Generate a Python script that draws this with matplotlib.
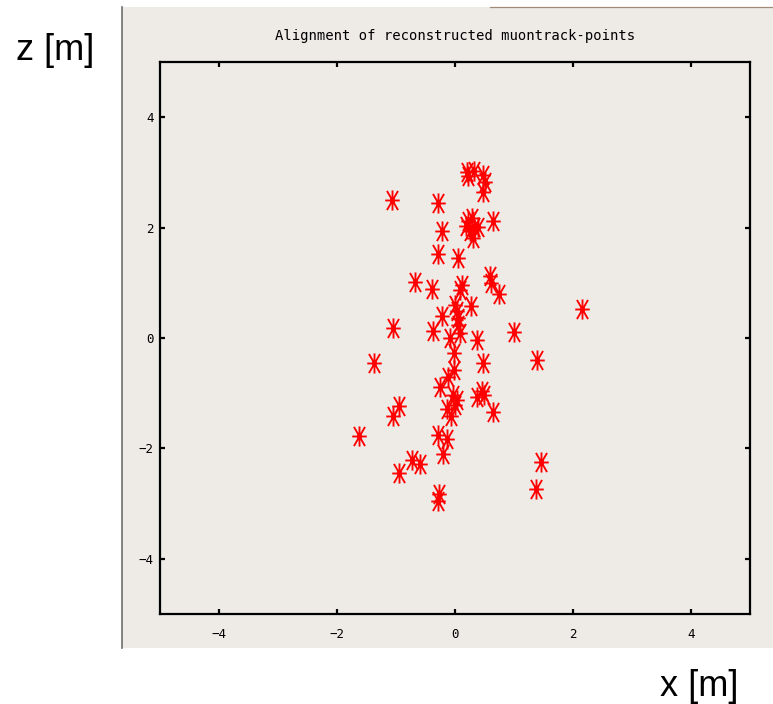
import matplotlib
matplotlib.use("Agg")
import matplotlib.pyplot as plt
from matplotlib.patches import Rectangle
from matplotlib.lines import Line2D
from matplotlib.path import Path

# Reconstructed muon track points (x, z) in metres
x_m = [-1.068, -0.278, -0.215, -0.278, 0.061, -0.673, -0.390, 0.598, 0.615, 0.751,
       0.119, 0.090, 0.271, 0.005, 0.034, 0.061, 0.061, -0.220, -1.041, -0.363,
       -0.080, 0.090, 0.373, 1.005, -0.012, 2.153, -1.373, 0.485, 1.390, -0.012,
       -0.108, -0.249, -0.024, 0.039, 0.005, -0.136, -0.063, 0.373, 0.458, 0.497,
       0.654, -0.939, -1.041, -1.627, -0.278, -0.131, -0.203, -0.729, -0.588, -0.939,
       1.463, 1.373, -0.258, -0.278, 0.225, 0.327, 0.485, 0.514, 0.485, 0.208,
       0.225, 0.293, 0.327, 0.259, 0.395, 0.310, 0.654, 0.192]
z_m = [2.507, 2.451, 1.935, 1.527, 1.455, 1.011, 0.888, 1.116, 1.002, 0.803,
       0.966, 0.875, 0.572, 0.603, 0.482, 0.362, 0.241, 0.404, 0.181, 0.120,
       0.000, 0.091, -0.031, 0.101, -0.275, 0.525, -0.453, -0.447, -0.402, -0.574,
       -0.701, -0.888, -1.027, -1.118, -1.208, -1.286, -1.408, -1.063, -0.955, -1.027,
       -1.344, -1.232, -1.420, -1.783, -1.752, -1.833, -2.105, -2.205, -2.286, -2.446,
       -2.254, -2.734, -2.821, -2.960, 2.940, 3.031, 2.958, 2.832, 2.650, 3.013,
       2.125, 2.179, 2.016, 1.944, 2.016, 1.817, 2.112, 2.034]

ticks = [-4, -2, 0, 2, 4]
title = "Alignment of reconstructed muontrack-points"

panel_color = "#eeebe7"

fig = plt.figure(figsize=(7.73, 7.04), dpi=100)
fig.patch.set_facecolor("white")

# grey window panel behind the plot
fig.add_artist(Rectangle((122 / 773, 56 / 704), 651 / 773, 641 / 704,
                         transform=fig.transFigure, facecolor=panel_color,
                         edgecolor="none", zorder=0))
fig.add_artist(Line2D([122 / 773, 122 / 773], [56 / 704, 697 / 704],
                      transform=fig.transFigure, color="#6e6e6e", lw=1.2, zorder=1))
fig.add_artist(Line2D([490 / 773, 1.0], [697 / 704, 697 / 704],
                      transform=fig.transFigure, color="#a08a78", lw=0.9, zorder=1))

ax = fig.add_axes([159.5 / 773, 90 / 704, 590.2 / 773, 552 / 704])
ax.set_facecolor(panel_color)

# asterisk marker: taller than wide, with steep diagonals
verts = [(0, -1), (0, 1), (-0.72, 0), (0.72, 0),
         (-0.55, -0.95), (0.55, 0.95), (-0.55, 0.95), (0.55, -0.95)]
codes = [Path.MOVETO, Path.LINETO] * 4
star = Path(verts, codes)

ax.plot(x_m, z_m, linestyle="none", marker=star, markersize=14.5,
        markeredgecolor="#ff0000", markerfacecolor="none", markeredgewidth=1.35)
ax.plot(x_m, z_m, linestyle="none", marker="s", markersize=3.5,
        markeredgecolor="#ff0000", markerfacecolor="#ff0000", markeredgewidth=0.5)

ax.set_xlim(-5, 5)
ax.set_ylim(-5, 5)
ax.set_xticks(ticks)
ax.set_yticks(ticks)
ax.set_xticklabels([str(t).replace("-", "\u2212") for t in ticks])
ax.set_yticklabels([str(t).replace("-", "\u2212") for t in ticks])

for s in ax.spines.values():
    s.set_linewidth(1.6)
    s.set_color("black")

ax.tick_params(direction="in", length=3.5, width=1.6, top=True, right=True,
               labelsize=9, colors="black")
ax.tick_params(axis="x", pad=10)
ax.tick_params(axis="y", pad=4)
for lab in ax.get_xticklabels() + ax.get_yticklabels():
    lab.set_family("DejaVu Sans Mono")

ax.set_title(title, family="DejaVu Sans Mono", fontsize=10, pad=16)

fig.text(55 / 773, 1 - 50 / 704, "z [m]", family="Liberation Sans", fontsize=26,
         ha="center", va="center")
fig.text(699 / 773, 1 - 686 / 704, "x [m]", family="Liberation Sans", fontsize=26,
         ha="center", va="center")

fig.savefig("out.png", dpi=100, facecolor="white")
